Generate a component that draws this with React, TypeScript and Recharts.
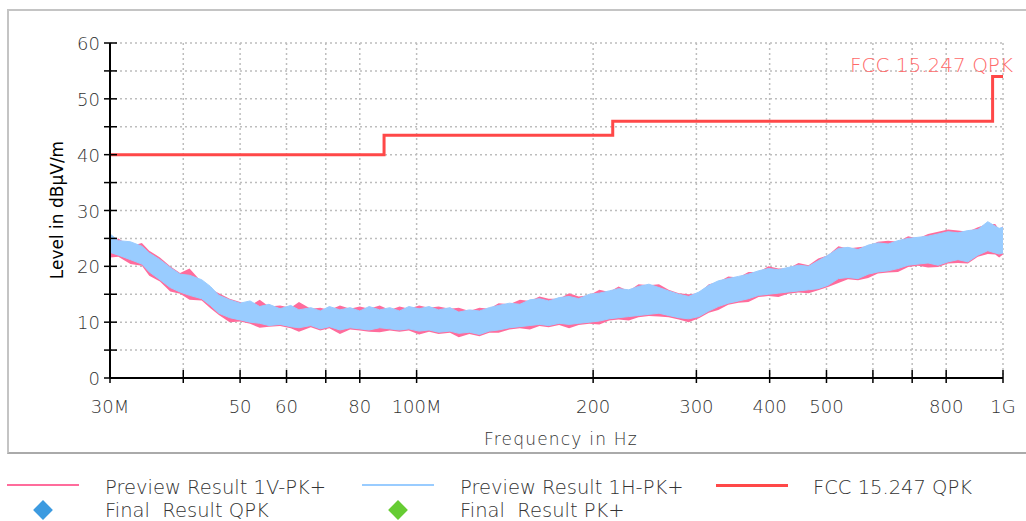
import React from 'react';
import { ComposedChart, Area, Line, XAxis, YAxis, CartesianGrid } from 'recharts';

// ─── Data (MHz / dBµV/m) ─────────────────────────────────────────────────────

const freqs = [
  30, 31, 32.5, 34, 35, 36.5, 38, 39.5, 41, 43, 44.5, 46, 48, 50, 52, 54, 56, 58.5, 61, 63,
  66, 68.5, 71, 74, 77, 80, 83, 86.5, 90, 93.5, 97, 101, 105, 109, 114, 118, 123, 128, 133, 138,
  144, 150, 156, 162, 168, 175, 182, 189, 197, 205, 213, 221, 230, 239, 249, 259, 269, 280, 291, 303,
  315, 327, 340, 354, 368, 383, 398, 414, 430, 448, 466, 484, 503, 524, 544, 566, 589, 612, 637, 662,
  689, 716, 745, 775, 806, 838, 871, 906, 942, 970, 985, 1000,
];

// Preview Result 1H-PK+ (blue) envelope
const blueHi = [
  25.8, 24.6, 24.4, 23.6, 22.4, 21.2, 19.8, 18.6, 18.4, 17.6, 16.4, 14.8, 14.0, 13.4, 13.8, 12.8, 13.2, 12.4, 13.0, 12.2,
  12.6, 12.0, 12.8, 12.2, 12.6, 12.0, 12.8, 12.2, 12.6, 12.0, 12.8, 12.4, 12.8, 12.2, 12.6, 11.8, 12.2, 12.0, 12.6, 13.0,
  13.4, 13.2, 14.0, 14.2, 13.8, 14.4, 14.6, 14.2, 15.0, 15.2, 15.6, 16.0, 15.8, 16.4, 16.8, 16.2, 15.6, 15.0, 14.6, 15.4,
  16.6, 17.4, 17.8, 18.2, 18.6, 19.2, 19.6, 19.4, 19.8, 20.2, 20.0, 21.0, 22.0, 23.2, 23.4, 23.0, 23.8, 24.2, 24.0, 24.6,
  25.0, 25.2, 25.4, 25.8, 26.2, 26.0, 26.4, 26.6, 28.0, 27.2, 26.8, 27.0,
];
const blueLo = [
  22.5, 22.0, 21.2, 20.4, 19.0, 17.6, 16.2, 15.4, 14.8, 14.2, 13.0, 11.6, 10.8, 10.4, 10.0, 9.8, 9.4, 9.6, 9.2, 9.0,
  9.4, 8.8, 9.2, 8.6, 9.0, 8.8, 8.6, 9.0, 8.8, 8.6, 8.8, 8.4, 8.6, 8.2, 8.4, 8.0, 8.2, 7.8, 8.4, 8.6,
  9.0, 9.2, 9.4, 9.6, 9.4, 9.8, 9.6, 9.8, 10.0, 10.2, 10.6, 10.8, 11.0, 11.2, 11.4, 11.6, 11.2, 10.8, 10.6, 11.0,
  12.0, 12.8, 13.4, 13.8, 14.2, 14.8, 15.0, 15.2, 15.4, 15.6, 15.8, 16.0, 16.6, 17.8, 18.0, 17.8, 18.6, 19.0, 19.2, 19.6,
  20.2, 20.4, 20.6, 20.2, 20.8, 21.2, 20.8, 22.0, 22.8, 22.4, 22.2, 22.4,
];

// Preview Result 1V-PK+ (pink) envelope
const pinkHi = [
  24.5, 25.0, 23.6, 24.2, 22.8, 21.6, 20.0, 18.8, 19.6, 17.2, 16.0, 15.2, 14.2, 13.6, 13.0, 14.0, 12.8, 13.0, 12.6, 13.6,
  12.4, 12.6, 12.2, 13.0, 12.4, 12.8, 12.4, 13.0, 12.2, 12.8, 12.4, 13.0, 12.6, 12.8, 12.4, 12.6, 12.0, 12.6, 12.4, 13.4,
  13.2, 14.0, 13.8, 14.6, 14.2, 14.2, 15.2, 14.6, 14.8, 15.8, 15.4, 16.4, 15.6, 16.8, 16.6, 16.8, 15.8, 15.2, 15.0, 15.2,
  16.8, 17.2, 18.2, 18.0, 19.0, 19.0, 20.0, 19.6, 19.6, 20.6, 20.2, 21.4, 22.0, 23.6, 23.2, 23.4, 23.6, 24.4, 24.6, 24.4,
  25.4, 25.0, 25.8, 26.2, 26.6, 26.4, 26.2, 27.0, 27.6, 27.6, 26.6, 27.2,
];
const pinkLo = [
  21.6, 21.7, 20.4, 20.1, 18.3, 17.3, 15.5, 15.1, 14.0, 13.9, 12.5, 11.3, 10.0, 10.1, 9.7, 9.0, 9.2, 9.3, 8.9, 8.3,
  9.1, 8.5, 8.9, 7.9, 8.7, 8.5, 8.3, 8.2, 8.5, 8.3, 8.5, 7.8, 8.3, 7.9, 8.1, 7.3, 7.9, 7.5, 8.1, 8.1,
  8.7, 8.9, 8.7, 9.3, 9.1, 9.5, 8.9, 9.5, 9.7, 9.6, 10.3, 10.5, 10.3, 10.9, 11.1, 11.0, 10.9, 10.5, 10.0, 10.7,
  11.7, 12.2, 13.1, 13.5, 13.6, 14.5, 14.7, 14.5, 15.1, 15.3, 15.2, 15.7, 16.3, 17.0, 17.7, 17.5, 17.9, 18.7, 18.9, 19.0,
  19.9, 20.1, 19.8, 19.9, 20.5, 20.6, 20.5, 21.7, 22.2, 22.1, 21.6, 22.1,
];

// FCC 15.247 QPK limit steps
const limitFreqs = [30, 88, 216, 960, 1000];
const limitLevels = [40, 43.5, 46, 54, 54];

const xTicks = [30, 40, 50, 60, 70, 80, 100, 200, 300, 400, 500, 600, 700, 800, 1000];
const xLabels: Record<number, string> = {
  30: '30M', 50: '50', 60: '60', 80: '80', 100: '100M', 200: '200',
  300: '300', 400: '400', 500: '500', 800: '800', 1000: '1G',
};
const yTicks = [0, 5, 10, 15, 20, 25, 30, 35, 40, 45, 50, 55, 60];

const blueRows = freqs.map((f, i) => ({ f, lo: blueLo[i], hi: blueHi[i] }));
const pinkRows = freqs.map((f, i) => ({ f, lo: pinkLo[i], hi: pinkHi[i] }));
const limitRows = limitFreqs.map((f, i) => ({ f, v: limitLevels[i] }));

const FONT = '"DejaVu Sans", sans-serif';
const PINK = '#ff6c9c';
const BLUE = '#99ccff';
const RED = '#ff4848';

// ─── Axis ticks ──────────────────────────────────────────────────────────────

function XTick({ x, y, payload }: any) {
  const label = xLabels[payload.value] ?? '';
  return (
    <g>
      <line x1={x} x2={x} y1={y - 8} y2={y + 5} stroke="#000" strokeWidth={1.5} />
      {label && (
        <text x={x} y={y + 35} textAnchor="middle" fontSize={18} fill="#333" fontFamily={FONT} fontWeight={300}>
          {label}
        </text>
      )}
    </g>
  );
}

function YTick({ x, y, payload }: any) {
  const showLabel = payload.value % 10 === 0;
  return (
    <g>
      <line x1={x - 6} x2={x + 7} y1={y} y2={y} stroke="#000" strokeWidth={1.5} />
      {showLabel && (
        <text x={x - 10} y={y + 7} textAnchor="end" fontSize={18} fill="#333" fontFamily={FONT} fontWeight={300}>
          {payload.value}
        </text>
      )}
    </g>
  );
}

// ─── Legend ──────────────────────────────────────────────────────────────────

const legendText: React.CSSProperties = {
  position: 'absolute', fontFamily: FONT, fontSize: 19.5, color: '#333', fontWeight: 300,
  whiteSpace: 'nowrap', lineHeight: '18px',
};

function Diamond({ cx, cy, color }: { cx: number; cy: number; color: string }) {
  return (
    <div style={{
      position: 'absolute', left: cx - 7, top: cy - 7, width: 14, height: 14,
      background: color, transform: 'rotate(45deg)',
    }} />
  );
}

function Swatch({ x, y, color, h }: { x: number; y: number; color: string; h: number }) {
  return <div style={{ position: 'absolute', left: x, top: y - h / 2, width: 72, height: h, background: color }} />;
}

export default function App() {
  return (
    <div style={{ position: 'absolute', left: 0, top: 0, width: 1026, height: 521, overflow: 'hidden', background: '#fff' }}>
      <div style={{
        position: 'absolute', left: 7, top: 9, width: 1040, height: 441,
        borderLeft: '2px solid #c4c4c4', borderTop: '2px solid #c4c4c4', borderBottom: '2px solid #aaa',
      }} />

      <div style={{ position: 'absolute', left: 0, top: 0 }}>
        <ComposedChart width={1026} height={450} margin={{ top: 43, right: 23, left: 0, bottom: 0 }}>
          <CartesianGrid stroke="#bdbdbd" strokeDasharray="2 3" strokeWidth={1.5} />
          <XAxis
            dataKey="f" type="number" scale="log" domain={[30, 1000]} allowDataOverflow
            ticks={xTicks} interval={0} height={72} tickSize={0} tickMargin={0}
            axisLine={{ stroke: '#000', strokeWidth: 2 }} tickLine={false} tick={<XTick />}
          />
          <YAxis
            type="number" domain={[0, 60]} ticks={yTicks} interval={0} width={110}
            tickSize={0} tickMargin={0} axisLine={{ stroke: '#000', strokeWidth: 2 }}
            tickLine={false} tick={<YTick />}
          />
          <Area
            data={pinkRows} dataKey={(d: any) => [d.lo, d.hi]} type="linear"
            stroke="none" fill={PINK} fillOpacity={1} isAnimationActive={false} dot={false}
          />
          <Area
            data={blueRows} dataKey={(d: any) => [d.lo, d.hi]} type="linear"
            stroke={BLUE} strokeWidth={1} fill={BLUE} fillOpacity={1} isAnimationActive={false} dot={false}
          />
          <Line
            data={limitRows} dataKey="v" type="stepAfter" stroke={RED} strokeWidth={3}
            dot={false} isAnimationActive={false}
          />
        </ComposedChart>
      </div>

      <div style={{ ...legendText, left: 850, top: 56, color: '#ff6a6a', fontSize: 20 }}>FCC 15.247 QPK</div>

      <div style={{
        position: 'absolute', left: 57, top: 210, transform: 'translate(-50%, -50%) rotate(-90deg)',
        fontFamily: FONT, fontSize: 17, color: '#000', whiteSpace: 'nowrap',
      }}>
        Level in dBμV/m
      </div>
      <div style={{ ...legendText, left: 484, top: 430, fontSize: 17, letterSpacing: 1.2 }}>Frequency in Hz</div>

      <Swatch x={7} y={485} color={PINK} h={2} />
      <div style={{ ...legendText, left: 105, top: 479 }}>Preview Result 1V-PK+</div>
      <Swatch x={362} y={485} color={BLUE} h={2} />
      <div style={{ ...legendText, left: 460, top: 479 }}>Preview Result 1H-PK+</div>
      <Swatch x={716} y={485} color={RED} h={3} />
      <div style={{ ...legendText, left: 813, top: 479 }}>FCC 15.247 QPK</div>

      <Diamond cx={43} cy={510} color="#3d9be0" />
      <div style={{ ...legendText, left: 105, top: 502 }}>Final&nbsp; Result QPK</div>
      <Diamond cx={398} cy={510} color="#66cc33" />
      <div style={{ ...legendText, left: 460, top: 502 }}>Final&nbsp; Result PK+</div>
    </div>
  );
}
